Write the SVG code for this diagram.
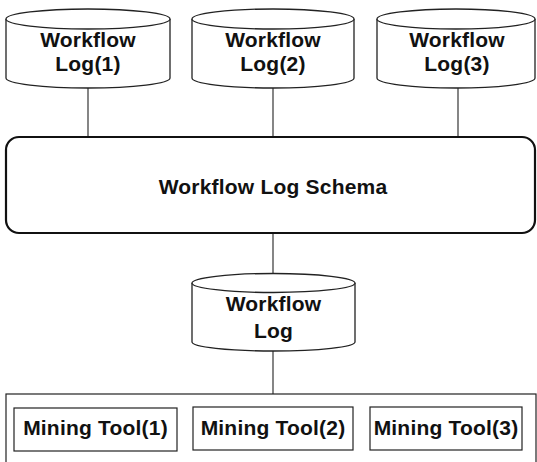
<svg xmlns="http://www.w3.org/2000/svg" width="537" height="462" viewBox="0 0 537 462">
  <style>
    .db { fill: #fff; stroke: #222; stroke-width: 1.3; }
    .box { fill: #fff; stroke: #222; stroke-width: 1.2; }
    .schema { fill: #fff; stroke: #111; stroke-width: 2.2; }
    .conn line { stroke: #222; stroke-width: 1.1; }
    text { font-family: "Liberation Sans", Arial, sans-serif; font-weight: bold; font-size: 21px; letter-spacing: 0.2px; fill: #111; text-anchor: middle; }
  </style>

  <!-- connectors -->
  <g id="connectors" class="conn">
    <line x1="88" y1="88" x2="88" y2="138"/>
    <line x1="273" y1="88" x2="273" y2="138"/>
    <line x1="458" y1="88" x2="458" y2="138"/>
    <line x1="273" y1="233" x2="273" y2="274"/>
    <line x1="273" y1="351" x2="273" y2="394"/>
  </g>

  <!-- source logs -->
  <g id="log1">
    <path class="db" d="M6,19 A82,10 0 0 1 170,19 V78 A82,10 0 0 1 6,78 Z"/>
    <path class="db" d="M6,19 A82,10 0 0 0 170,19" fill="none"/>
    <text x="88" y="47">Workflow</text>
    <text x="88" y="71">Log(1)</text>
  </g>
  <g id="log2">
    <path class="db" d="M192,19 A81,10 0 0 1 354,19 V78 A81,10 0 0 1 192,78 Z"/>
    <path class="db" d="M192,19 A81,10 0 0 0 354,19" fill="none"/>
    <text x="273" y="47">Workflow</text>
    <text x="273" y="71">Log(2)</text>
  </g>
  <g id="log3">
    <path class="db" d="M377,19 A79,10 0 0 1 535,19 V78 A79,10 0 0 1 377,78 Z"/>
    <path class="db" d="M377,19 A79,10 0 0 0 535,19" fill="none"/>
    <text x="457" y="47">Workflow</text>
    <text x="457" y="71">Log(3)</text>
  </g>

  <!-- schema -->
  <g id="schema">
    <rect class="schema" x="6" y="137" width="529" height="96" rx="13" ry="13"/>
    <text x="273" y="194">Workflow Log Schema</text>
  </g>

  <!-- merged log -->
  <g id="log">
    <path class="db" d="M192,283 A81.5,9.5 0 0 1 355,283 V342 A81.5,9 0 0 1 192,342 Z"/>
    <path class="db" d="M192,283 A81.5,9.5 0 0 0 355,283" fill="none"/>
    <text x="273.5" y="311">Workflow</text>
    <text x="273.5" y="338">Log</text>
  </g>

  <!-- mining tools -->
  <g id="tools">
    <rect class="box" x="6" y="394" width="530" height="80"/>
  </g>
  <g id="tool1">
    <rect class="box" x="14" y="408" width="163" height="43"/>
    <text x="95.5" y="435">Mining Tool(1)</text>
  </g>
  <g id="tool2">
    <rect class="box" x="193" y="407" width="160" height="43"/>
    <text x="273" y="435">Mining Tool(2)</text>
  </g>
  <g id="tool3">
    <rect class="box" x="370" y="407" width="152" height="43"/>
    <text x="446" y="435">Mining Tool(3)</text>
  </g>
</svg>
